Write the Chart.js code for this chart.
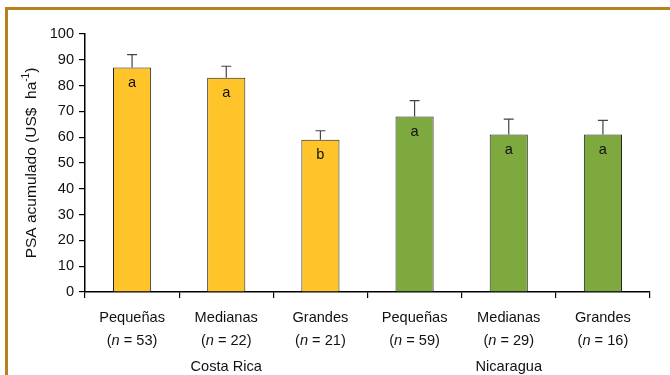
<!DOCTYPE html>
<html>
<head>
<meta charset="utf-8">
<script src="https://cdn.jsdelivr.net/npm/chart.js@4"></script>
<style>
  html, body { margin: 0; padding: 0; background: #fff; overflow: hidden; }
  #wrap { position: relative; width: 670px; height: 375px; }
  #frame { position: absolute; left: 5px; top: 7px; width: 700px; height: 400px;
           border-top: 3px solid #b8801f; border-left: 3px solid #b8801f; box-sizing: border-box; }
  canvas { position: absolute; left: 0; top: 0; }
</style>
</head>
<body>
<div id="wrap">
  <div id="frame"></div>
  <canvas id="c" width="670" height="375"></canvas>
</div>
<script>
// Farm size classes per country
const sizeClasses = ['Pequeñas', 'Medianas', 'Grandes', 'Pequeñas', 'Medianas', 'Grandes'];
const sampleSizes = [53, 22, 21, 59, 29, 16];
const countries = ['Costa Rica', 'Nicaragua'];
// Accumulated PSA (US$ ha-1), mean and upper end of error bar
const psaMean = [87, 83, 59, 68, 61, 61];
const psaUpper = [92, 87.5, 62.5, 74.2, 67, 66.5];
const groupLetters = ['a', 'a', 'b', 'a', 'a', 'a'];
const yTicks = [0, 10, 20, 30, 40, 50, 60, 70, 80, 90, 100];

const barColors = ['#fec42a', '#fec42a', '#fec42a', '#7ea93e', '#7ea93e', '#7ea93e'];
const FONT = '"Liberation Sans", Arial, Helvetica, sans-serif';
const FS = 14.6;

const annotate = {
  id: 'annotate',
  afterDatasetsDraw(chart) {
    const ctx = chart.ctx;
    const y = chart.scales.y;
    const x = chart.scales.x;
    const meta = chart.getDatasetMeta(0);
    ctx.save();
    // upper error bars
    ctx.strokeStyle = '#444';
    ctx.lineWidth = 1.2;
    meta.data.forEach((bar, i) => {
      const top = y.getPixelForValue(psaUpper[i]);
      const base = y.getPixelForValue(psaMean[i]);
      ctx.beginPath();
      ctx.moveTo(bar.x, base);
      ctx.lineTo(bar.x, top);
      ctx.moveTo(bar.x - 5, top);
      ctx.lineTo(bar.x + 5, top);
      ctx.stroke();
    });
    // significance letters inside the bars
    ctx.fillStyle = '#111';
    ctx.font = FS + 'px ' + FONT;
    ctx.textAlign = 'center';
    ctx.textBaseline = 'middle';
    meta.data.forEach((bar, i) => {
      ctx.fillText(groupLetters[i], bar.x, y.getPixelForValue(psaMean[i]) + 15);
    });
    // category labels with sample size
    const bottom = x.top;
    meta.data.forEach((bar, i) => {
      const cx = x.getPixelForValue(i);
      ctx.font = FS + 'px ' + FONT;
      ctx.textAlign = 'center';
      ctx.fillText(sizeClasses[i], cx, bottom + 26);
      const parts = [['(', ''], ['n', 'italic '], [' = ' + sampleSizes[i] + ')', '']];
      let total = 0;
      parts.forEach(p => { ctx.font = p[1] + FS + 'px ' + FONT; total += ctx.measureText(p[0]).width; });
      let px = cx - total / 2;
      ctx.textAlign = 'left';
      parts.forEach(p => {
        ctx.font = p[1] + FS + 'px ' + FONT;
        ctx.fillText(p[0], px, bottom + 49);
        px += ctx.measureText(p[0]).width;
      });
    });
    // country group labels
    ctx.font = FS + 'px ' + FONT;
    ctx.textAlign = 'center';
    countries.forEach((name, g) => {
      const cx = (x.getPixelForValue(g * 3) + x.getPixelForValue(g * 3 + 2)) / 2;
      ctx.fillText(name, cx, bottom + 75);
    });
    // y axis title
    ctx.translate(32, (y.top + y.bottom) / 2);
    ctx.rotate(-Math.PI / 2);
    const TF = 15.5;
    const t1 = 'PSA acumulado (US$  ha', sup = '-1', t2 = ')';
    ctx.font = TF + 'px ' + FONT;
    const w1 = ctx.measureText(t1).width, w3 = ctx.measureText(t2).width;
    ctx.font = '10px ' + FONT;
    const w2 = ctx.measureText(sup).width;
    let sx = -(w1 + w2 + w3) / 2;
    ctx.textAlign = 'left';
    ctx.font = TF + 'px ' + FONT;
    ctx.fillText(t1, sx, 0); sx += w1;
    ctx.font = '10px ' + FONT;
    ctx.fillText(sup, sx, -6); sx += w2;
    ctx.font = TF + 'px ' + FONT;
    ctx.fillText(t2, sx, 0);
    ctx.restore();
  }
};

new Chart(document.getElementById('c'), {
  type: 'bar',
  data: {
    labels: sizeClasses,
    datasets: [{
      data: psaMean,
      backgroundColor: barColors,
      borderColor: '#222',
      borderWidth: 1,
      barPercentage: 0.405,
      categoryPercentage: 1
    }]
  },
  options: {
    responsive: false,
    animation: false,
    events: [],
    layout: { padding: { top: 34, right: 20, left: 0, bottom: 0 } },
    plugins: { legend: { display: false }, tooltip: { enabled: false } },
    scales: {
      x: {
        offset: true,
        grid: { offset: true, drawOnChartArea: false, drawTicks: true, tickLength: 6, color: '#000', lineWidth: 1.2 },
        border: { color: '#000', width: 1.5 },
        ticks: { display: false },
        afterFit(s) { s.height = 83; }
      },
      y: {
        min: 0, max: 100,
        afterBuildTicks(s) { s.ticks = yTicks.map(v => ({ value: v })); },
        grid: { drawOnChartArea: false, drawTicks: true, tickLength: 6, color: '#000', lineWidth: 1.2 },
        border: { color: '#000', width: 1.5 },
        ticks: { color: '#111', font: { family: FONT, size: FS }, padding: 5 },
        afterFit(s) { s.width = 85; }
      }
    }
  },
  plugins: [annotate]
});
</script>
</body>
</html>
